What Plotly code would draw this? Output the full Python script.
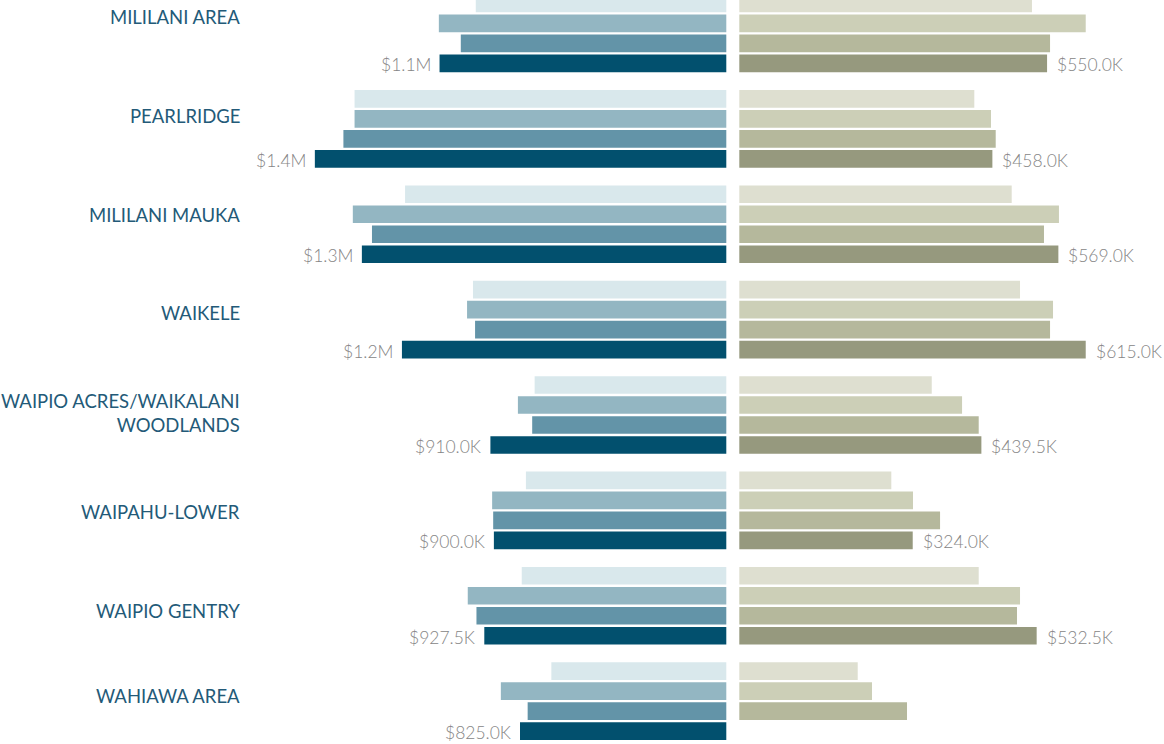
import plotly.graph_objects as go

# ---------------- data (values in $ thousands) ----------------
areas = ["MILILANI AREA", "PEARLRIDGE", "MILILANI MAUKA", "WAIKELE",
         "WAIPIO ACRES/WAIKALANI WOODLANDS", "WAIPAHU-LOWER",
         "WAIPIO GENTRY", "WAHIAWA AREA"]

# left panel (blue) – four periods, lightest to darkest
sf_p1 = [952, 1300, 1155, 960, 783, 808, 820, 735]
sf_p2 = [1058, 1300, 1305, 977, 831, 905, 975, 880]
sf_p3 = [995, 1332, 1250, 954, 790, 902, 950, 803]
sf_p4 = [1056, 1414, 1279, 1164, 910, 900, 927.5, 825]

# right panel (green) – four periods, lightest to darkest
co_p1 = [524.6, 427.6, 490.5, 504.5, 356, 288, 435, 231.5]
co_p2 = [615, 455.7, 570, 560, 407, 324.5, 504.5, 255.5]
co_p3 = [555, 463.6, 544.8, 555, 435, 370, 499.4, 314.4]
co_p4 = [550, 458, 569, 615, 439.5, 324, 532.5, None]

# ---------------- style ----------------
W, H = 1164, 744
blue = ["#d9e8ec", "#93b6c2", "#6394a8", "#02506e"]
green = ["#dedfd0", "#cccfb7", "#b5b89c", "#96997e"]
LABEL_COLOR = "#235a78"
VALUE_COLOR = "#858585"
FONT = "Source Sans Pro, Lato, sans-serif"

BARGAP = 0.1612
BARGROUPGAP = 0.115
N = 4
slot = (1 - BARGAP) / N
dark_off = -(1 - BARGAP) / 2 + (N - 0.5) * slot

# per-label vertical nudges (px) for the row headers
label_yshift = [16.5, 12.6, 9.2, 6.6, 1.5, -1.6, -5.2, 5.3]


def fmt(v):
    if v >= 1000:
        return f"${v / 1000:.1f}M"
    return f"${v:.1f}K"


fig = go.Figure()
for vals, col in zip([sf_p1, sf_p2, sf_p3, sf_p4], blue):
    fig.add_trace(go.Bar(x=vals, y=areas, orientation="h", marker_color=col,
                         marker_line_width=0, xaxis="x", yaxis="y",
                         hoverinfo="skip"))
for vals, col in zip([co_p1, co_p2, co_p3, co_p4], green):
    fig.add_trace(go.Bar(x=vals, y=areas, orientation="h", marker_color=col,
                         marker_line_width=0, xaxis="x2", yaxis="y",
                         hoverinfo="skip"))

ann = []
for i, name in enumerate(areas):
    ann.append(dict(x=242 / W, xref="paper", xanchor="right",
                    y=i, yref="y", yanchor="middle", yshift=label_yshift[i],
                    text=name.replace("/WAIKALANI ", "/WAIKALANI<br>"),
                    showarrow=False, align="right",
                    font=dict(family=FONT, size=18.5, color=LABEL_COLOR)))
    v = sf_p4[i]
    if v is not None:
        ann.append(dict(x=v, xref="x", xanchor="right", xshift=-7, yshift=-1.5,
                        y=i + dark_off, yref="y", yanchor="middle",
                        text=fmt(v), showarrow=False,
                        font=dict(family=FONT, size=17.5, color=VALUE_COLOR,
                                  weight=300)))
    v = co_p4[i]
    if v is not None:
        ann.append(dict(x=v, xref="x2", xanchor="left", xshift=8, yshift=-1.5,
                        y=i + dark_off, yref="y", yanchor="middle",
                        text=fmt(v), showarrow=False,
                        font=dict(family=FONT, size=17.5, color=VALUE_COLOR,
                                  weight=300)))

# pixel geometry of the two panels
left_edge_px = 726.3
left_zero_val = 232.7
left_px_per_k = 0.3483
right_edge_px = 739.3
right_zero_val = 32.3
right_px_per_k = 0.5945

left_range = [left_zero_val + left_edge_px / left_px_per_k, left_zero_val]
right_range = [right_zero_val, right_zero_val + (W - right_edge_px) / right_px_per_k]

pitch = 95.38
first_center = 33.47
y_top = -first_center / pitch
y_bot = y_top + H / pitch

axis_common = dict(showgrid=False, zeroline=False, showticklabels=False,
                   showline=False, ticks="", fixedrange=True)

fig.update_layout(
    width=W, height=H,
    margin=dict(l=0, r=0, t=0, b=0),
    paper_bgcolor="white", plot_bgcolor="white",
    barmode="group", bargap=BARGAP, bargroupgap=BARGROUPGAP,
    showlegend=False,
    xaxis=dict(domain=[0, left_edge_px / W], range=left_range, anchor="y",
               **axis_common),
    xaxis2=dict(domain=[right_edge_px / W, 1], range=right_range, anchor="y",
                **axis_common),
    yaxis=dict(type="category", range=[y_bot, y_top], **axis_common),
    annotations=ann,
)

fig.write_html("out.html", config={"displayModeBar": False},
               post_script="document.body.style.margin='0';"
                           "document.body.style.overflow='hidden';")
